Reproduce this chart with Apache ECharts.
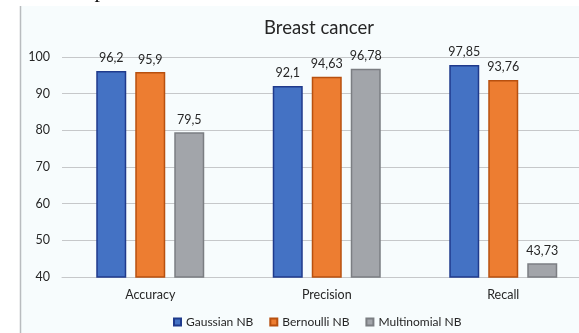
<!DOCTYPE html>
<html>
<head>
<meta charset="utf-8">
<script src="https://cdn.jsdelivr.net/npm/echarts@6/dist/echarts.min.js"></script>
<style>
  html, body { margin: 0; padding: 0; background: #ffffff; }
  #chart { width: 579px; height: 333px; }
</style>
</head>
<body>
<div id="chart"></div>
<script>
// Classification scores on the breast cancer dataset
const categories = ['Accuracy', 'Precision', 'Recall'];
const gaussianNB = [96.2, 92.1, 97.85];
const bernoulliNB = [95.9, 94.63, 93.76];
const multinomialNB = [79.5, 96.78, 43.73];
const yTicks = { min: 40, max: 100, step: 10 };

const FONT = 'Lato, "Open Sans", sans-serif';

// decimal comma, as in the original labels
const fmt = v => String(v).replace('.', ',');

function barSeries(name, data, fill, edge) {
  return {
    name: name,
    type: 'bar',
    data: data,
    barWidth: 30,
    barGap: '30%',
    itemStyle: { color: fill, borderColor: edge, borderWidth: 1.5 },
    label: {
      show: true,
      position: 'top',
      distance: 6,
      color: '#262626',
      fontFamily: FONT,
      fontSize: 12.5,
      formatter: p => fmt(p.value)
    }
  };
}

const chart = echarts.init(document.getElementById('chart'), null, { renderer: 'canvas' });

chart.setOption({
  backgroundColor: '#ffffff',
  animation: false,
  graphic: [
    { type: 'rect', z: -10, shape: { x: 21, y: 6, width: 560, height: 330 }, style: { fill: '#f7fcfd' } },
    { type: 'line', z: -9, shape: { x1: 20.5, y1: 6, x2: 20.5, y2: 333 }, style: { stroke: '#b9bcbf', lineWidth: 1.5 } },
    { type: 'text', z: -8, x: 100, y: 2, style: { text: 'p', fontFamily: '"Liberation Serif", serif', fontSize: 22, fill: '#111111', align: 'center', verticalAlign: 'bottom' } }
  ],
  title: {
    text: 'Breast cancer',
    left: 314,
    textAlign: 'center',
    top: 14,
    textStyle: { fontFamily: FONT, fontSize: 18.5, fontWeight: 'normal', color: '#262626' }
  },
  legend: {
    left: 173,
    top: 316,
    padding: 0,
    itemWidth: 7,
    itemHeight: 7,
    itemGap: 16,
    icon: 'rect',
    textStyle: { fontFamily: FONT, fontSize: 12, color: '#262626' },
    data: ['Gaussian NB', 'Bernoulli NB', 'Multinomial NB']
  },
  // the plot runs past the right edge of the canvas
  grid: { left: 62, width: 529.5, top: 57, height: 220, containLabel: false, outerBoundsMode: 'none' },
  xAxis: {
    type: 'category',
    data: categories,
    axisLine: { lineStyle: { color: '#c6c8ca', width: 1 } },
    axisTick: { show: false },
    axisLabel: { margin: 11, fontFamily: FONT, fontSize: 12.5, color: '#262626' }
  },
  yAxis: {
    type: 'value',
    min: yTicks.min,
    max: yTicks.max,
    interval: yTicks.step,
    axisLine: { show: false },
    axisTick: { show: false },
    axisLabel: { margin: 12, fontFamily: FONT, fontSize: 12.5, color: '#262626' },
    splitLine: { lineStyle: { color: '#c6c8ca', width: 1 } }
  },
  series: [
    barSeries('Gaussian NB', gaussianNB, '#4472c4', '#1f3a8c'),
    barSeries('Bernoulli NB', bernoulliNB, '#ed7d31', '#b8500f'),
    barSeries('Multinomial NB', multinomialNB, '#a2a5aa', '#7b7e82')
  ]
});
</script>
</body>
</html>
